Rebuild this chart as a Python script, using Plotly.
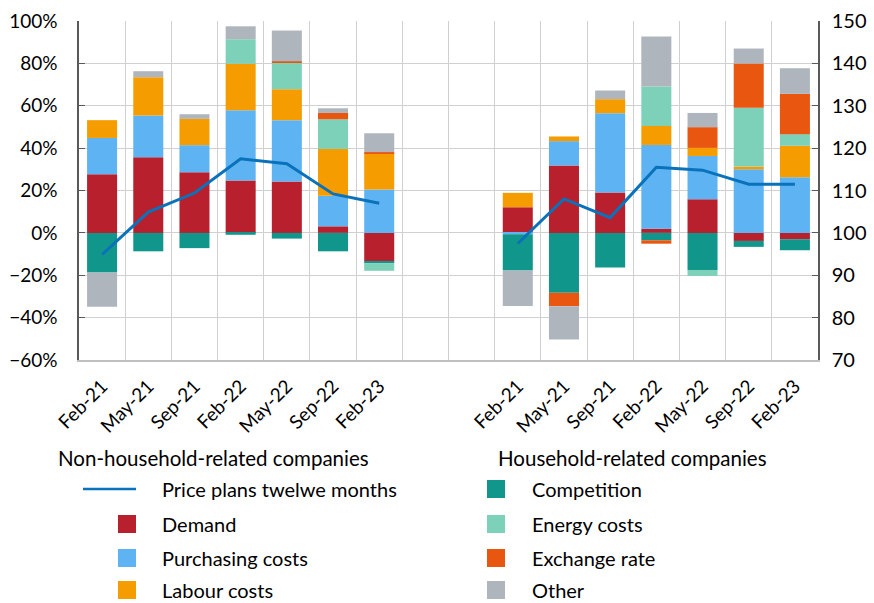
import plotly.graph_objects as go

# ---- data ----
cat_ids = ["L1", "L2", "L3", "L4", "L5", "L6", "L7", "G1", "G2",
           "R1", "R2", "R3", "R4", "R5", "R6", "R7"]
tick_labels = ["Feb-21", "May-21", "Sep-21", "Feb-22", "May-22", "Sep-22", "Feb-23", "", "",
               "Feb-21", "May-21", "Sep-21", "Feb-22", "May-22", "Sep-22", "Feb-23"]

demand      = [27.7, 35.7, 28.6, 24.7, 24.2, 3.1, -13.5, None, None, 12.1, 31.8, 19.0, 2.0, 15.9, -3.8, -3.0]
purchasing  = [17.1, 19.7, 12.8, 33.2, 29.0, 14.4, 20.5, None, None, -0.7, 11.5, 37.5, 39.5, 20.4, 30.0, 26.3]
labour      = [8.4, 18.1, 12.4, 21.9, 14.6, 22.1, 16.8, None, None, 6.8, 2.2, 6.6, 9.0, 3.8, 1.3, 14.8]
competition = [-18.7, -8.7, -7.2, -0.9, -2.7, -8.7, -0.9, None, None, -17.0, -28.3, -16.4, -3.5, -17.5, -2.8, -5.2]
energy      = [0, 0, 0, 11.6, 12.4, 14.0, -3.5, None, None, 0, 0, 0, 18.6, -2.8, 27.7, 5.5]
exchange    = [0, 0, 0, 0, 0.8, 3.0, 0.8, None, None, 0, -6.3, 0, -1.6, 9.8, 20.9, 19.0]
other       = [-16.2, 2.8, 2.2, 6.1, 14.5, 2.2, 8.9, None, None, -16.8, -15.7, 4.1, 23.6, 6.7, 7.1, 12.1]
price_plans = [94.9, 104.9, 109.4, 117.5, 116.3, 109.2, 107.0, None, None,
               97.5, 108.0, 103.6, 115.5, 114.8, 111.5, 111.5]

series = [
    ("Demand", demand, "#B8202E"),
    ("Purchasing costs", purchasing, "#5EB3F2"),
    ("Labour costs", labour, "#F59C00"),
    ("Competition", competition, "#10968A"),
    ("Energy costs", energy, "#7DD1B8"),
    ("Exchange rate", exchange, "#E85610"),
    ("Other", other, "#AFB5BD"),
]
line_color = "#0A72BA"
font_family = "Lato, 'Noto Sans', sans-serif"

fig = go.Figure()
for name, vals, col in series:
    fig.add_trace(go.Bar(x=cat_ids, y=vals, name=name, marker=dict(color=col, line=dict(width=0)),
                         width=0.65, showlegend=False))
fig.add_trace(go.Scatter(x=cat_ids, y=price_plans, name="Price plans twelwe months", mode="lines",
                         line=dict(color=line_color, width=3), yaxis="y2", connectgaps=False,
                         showlegend=False))

L, R, T, B = 79, 56, 21, 243
W, H = 874, 603
pw, ph = W - L - R, H - T - B

def px_x(px):
    return (px - L) / pw

def px_y(py):
    return (H - B - py) / ph

fig.update_layout(
    width=W, height=H, barmode="relative", bargap=0.35,
    margin=dict(l=L, r=R, t=T, b=B, autoexpand=False),
    plot_bgcolor="white", paper_bgcolor="white",
    font=dict(family=font_family, size=19, color="#000000"),
    xaxis=dict(type="category", categoryorder="array", categoryarray=cat_ids,
               tickvals=cat_ids, ticktext=tick_labels, tickangle=-45,
               tickson="boundaries", showgrid=True, gridcolor="#D0D0D0", gridwidth=1,
               ticks="", showline=True, linecolor="#BFBFBF", linewidth=1.5,
               tickfont=dict(size=19), range=[-0.5, 15.5], automargin=False,
               ticklabelstandoff=6),
    yaxis=dict(range=[-60, 100], dtick=20, ticksuffix="%", showgrid=True, gridcolor="#D0D0D0",
               gridwidth=1, zeroline=False, showline=True, linecolor="#595959", linewidth=1.5,
               ticks="inside", ticklen=6, tickcolor="#595959", tickfont=dict(size=19),
               automargin=False, ticklabelstandoff=16),
    yaxis2=dict(range=[70, 150], dtick=10, overlaying="y", side="right", showgrid=False,
                zeroline=False, showline=True, linecolor="#595959", linewidth=1.5,
                ticks="inside", ticklen=6, tickcolor="#595959", tickfont=dict(size=20),
                automargin=False, ticklabelstandoff=8),
)

shapes = []
annotations = []
# group titles
annotations.append(dict(text="Non-household-related companies", x=px_x(213), y=px_y(458),
                        xref="paper", yref="paper", showarrow=False, xanchor="center",
                        yanchor="middle", font=dict(size=20.5)))
annotations.append(dict(text="Household-related companies", x=px_x(632), y=px_y(458),
                        xref="paper", yref="paper", showarrow=False, xanchor="center",
                        yanchor="middle", font=dict(size=20.5)))

# manual legend
rows = [489, 524, 558, 590]
legend_items = [
    ("Price plans twelwe months", line_color, "line", 0, 0),
    ("Demand", series[0][2], "box", 0, 1),
    ("Purchasing costs", series[1][2], "box", 0, 2),
    ("Labour costs", series[2][2], "box", 0, 3),
    ("Competition", series[3][2], "box", 1, 0),
    ("Energy costs", series[4][2], "box", 1, 1),
    ("Exchange rate", series[5][2], "box", 1, 2),
    ("Other", series[6][2], "box", 1, 3),
]
col_box = [(118, 136), (487, 505)]
col_text = [160, 530]
for label, col, kind, c, r in legend_items:
    yc = rows[r]
    if kind == "line":
        shapes.append(dict(type="line", xref="paper", yref="paper", x0=px_x(83), x1=px_x(136),
                           y0=px_y(yc), y1=px_y(yc), line=dict(color=line_color, width=2.5)))
    else:
        x0, x1 = col_box[c]
        shapes.append(dict(type="rect", xref="paper", yref="paper", x0=px_x(x0), x1=px_x(x1),
                           y0=px_y(yc - 9), y1=px_y(yc + 9), fillcolor=col, line=dict(width=0)))
    annotations.append(dict(text=label, x=px_x(col_text[c]), y=px_y(yc), xref="paper", yref="paper",
                            showarrow=False, xanchor="left", yanchor="middle", font=dict(size=20)))

fig.update_layout(shapes=shapes, annotations=annotations)
fig.write_html("out.html", config={"displayModeBar": False},
               post_script="document.body.style.margin='0';document.body.style.overflow='hidden';")
